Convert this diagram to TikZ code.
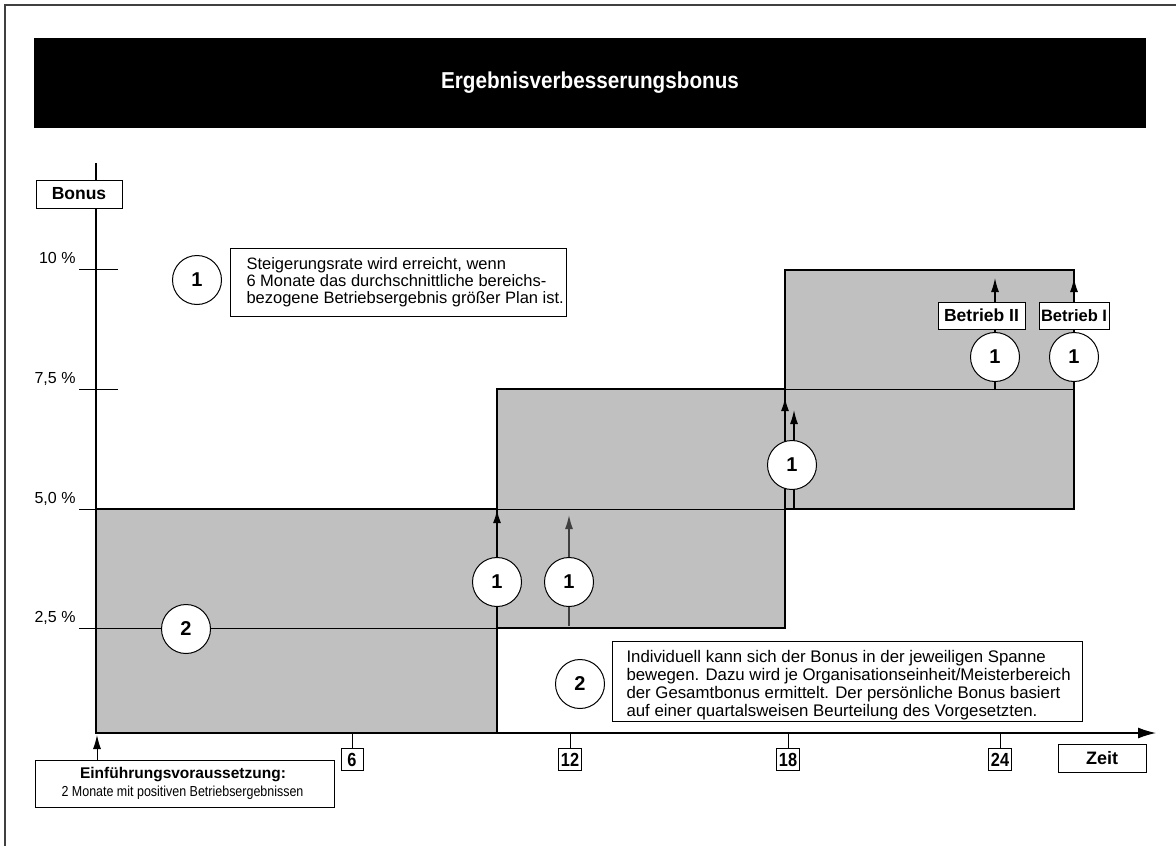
\documentclass[tikz,border=0pt]{standalone}
\usepackage{fontspec}
\setmainfont{Liberation Sans}
\newfontfamily\narrowfont[FakeStretch=0.86]{Liberation Sans}
\newfontfamily\titlefont[FakeStretch=0.9]{Liberation Sans}
\usetikzlibrary{arrows.meta}
\definecolor{boxgray}{RGB}{192,192,192}
\newcommand{\myfs}[2]{\fontsize{#1pt}{#2pt}\selectfont}
\begin{document}
\begin{tikzpicture}[x=1pt,y=-1pt,
  line width=1pt,
  num/.style={circle, draw, fill=white, line width=1pt, minimum size=49pt, inner sep=0pt, font={\myfs{20}{20}\bfseries}},
  lbl/.style={draw, fill=white, line width=1pt, inner xsep=2.5pt, inner ysep=0pt, minimum height=27pt, font={\myfs{17.5}{18}\bfseries}},
  tickbox/.style={draw, fill=white, line width=1pt, inner xsep=2pt, inner ysep=0pt, minimum height=22pt, minimum width=22pt, anchor=north, font={\narrowfont\bfseries\myfs{19}{19}}},
  ylab/.style={anchor=base east, inner sep=0pt, font={\myfs{16}{16}}},
  framebox/.style={draw, fill=white, line width=1pt, inner sep=0pt},
  plaintext/.style={anchor=north west, inner sep=0pt, align=left},
  arr/.style={-{Latex[length=14pt,width=8pt]}},
  rectline/.style={line width=1.3pt}
]
\useasboundingbox (0,0) rectangle (1176,846);
% frame
\draw[line width=1.6pt, black!75] (5,846) -- (5,5) -- (1176,5);
% banner
\node[fill=black, text=white, minimum width=1112pt, minimum height=90pt, inner sep=0pt, font={\titlefont\bfseries\myfs{23}{24}}] (title) at (590,83) {Ergebnisverbesserungsbonus};

% gray areas
\fill[boxgray] (96,509) rectangle (497,733);
\fill[boxgray] (497,389) rectangle (785,628);
\fill[boxgray] (785,270) rectangle (1074,509);
\draw[rectline] (96,509) rectangle (497,733);
\draw[rectline] (497,389) rectangle (785,628);
\draw[rectline] (785,270) rectangle (1074,509);

% level lines and ticks
\draw (79,628) -- (497,628);
\draw (79,509) -- (1074,509);
\draw (79,389) -- (118,389);
\draw (497,389) -- (1074,389);
\draw (79,269) -- (118,269);

% axes
\coordinate (ytop) at (96,163);
\coordinate (orig) at (96,733);
\coordinate (xend) at (1156,733);
\draw[rectline] (ytop) -- (orig);
\draw[rectline, -{Latex[length=18pt,width=11pt]}] (orig) -- (xend);

\node[ylab] (l10) at (76,263) {10 \%};
\node[ylab] (l75) at (76,383) {7,5 \%};
\node[ylab] (l50) at (76,503) {5,0 \%};
\node[ylab] (l25) at (76,622) {2,5 \%};

\node[lbl, minimum width=86pt, minimum height=28pt] (bonus) at (79,194) {Bonus};

% x ticks
\foreach \m/\xx in {6/352,12/570,18/788,24/1000}{
  \coordinate (t\m a) at (\xx,733);
  \coordinate (t\m b) at (\xx,748);
  \draw (t\m a) -- (t\m b);
  \node[tickbox] (tb\m) at (t\m b) {\m};
}
\node[lbl, minimum width=88pt, minimum height=28pt, font={\myfs{18}{18}\bfseries}] (zeit) at (1102,758) {Zeit};

% arrows
\coordinate (a1s) at (497,628); \coordinate (a1e) at (497,509);
\coordinate (a2s) at (569,626); \coordinate (a2e) at (569,515);
\coordinate (a3s) at (785,509); \coordinate (a3e) at (785,397);
\coordinate (a4s) at (794,509); \coordinate (a4e) at (794,410);
\coordinate (a5s) at (995,389); \coordinate (a5e) at (995,278);
\coordinate (a6s) at (1074,389); \coordinate (a6e) at (1074,278);
\draw[arr, line width=2.2pt] (a1s) -- (a1e);
\draw[arr, line width=1.5pt, black!75] (a2s) -- (a2e);
\draw[arr, line width=2.2pt] (a3s) -- (a3e);
\draw[arr, line width=1.3pt] (a4s) -- (a4e);
\draw[arr, line width=1.3pt] (a5s) -- (a5e);
\draw[arr, line width=1.3pt] (a6s) -- (a6e);

\node[num] (c1) at (497,582) {1};
\node[num] (c2) at (569,582) {1};
\node[num] (c3) at (792,465) {1};
\node[num] (c4) at (995,357) {1};
\node[num] (c5) at (1074,357) {1};
\node[lbl, minimum width=87pt] (b2) at (981.5,315.5) {Betrieb II};
\node[lbl, minimum width=66pt, inner xsep=2pt, font={\myfs{16.5}{18}\bfseries}] (b1) at (1074,315.5) {Betrieb I};

\node[num] (c2a) at (186,629) {2};

% legend 1
\node[num] (leg1) at (197,280) {1};
\node[framebox, minimum width=336pt, minimum height=68pt] (box1) at (398,282) {};
\node[plaintext, font={\myfs{16.5}{16.8}}] (box1t) at (246,257)
 {Steigerungsrate wird erreicht, wenn\\6 Monate das durchschnittliche bereichs-\\bezogene Betriebsergebnis größer Plan ist.};

% legend 2
\node[num] (leg2) at (580,684) {2};
\node[framebox, minimum width=470pt, minimum height=80pt] (box2) at (847,681) {};
\node[plaintext, font={\myfs{16.8}{18}}] (box2t) at (626,650)
 {Individuell kann sich der Bonus in der jeweiligen Spanne\\bewegen. Dazu wird je Organisationseinheit/Meisterbereich\\der Gesamtbonus ermittelt. Der persönliche Bonus basiert\\auf einer quartalsweisen Beurteilung des Vorgesetzten.};

% Einfuehrung
\node[framebox, minimum width=299pt, minimum height=47pt] (einf) at (184.5,783.5) {};
\node[anchor=base, inner sep=0pt, font={\myfs{15.5}{16}\bfseries}] (einf1) at (183,778) {Einführungsvoraussetzung:};
\node[anchor=base, inner sep=0pt, font={\narrowfont\myfs{14.5}{15}}] (einf2) at (182.5,796) {2 Monate mit positiven Betriebsergebnissen};
\coordinate (einfa) at (97,760);
\coordinate (einfb) at (97,735);
\draw[arr, line width=1pt] (einfa) -- (einfb);
\end{tikzpicture}
\end{document}
